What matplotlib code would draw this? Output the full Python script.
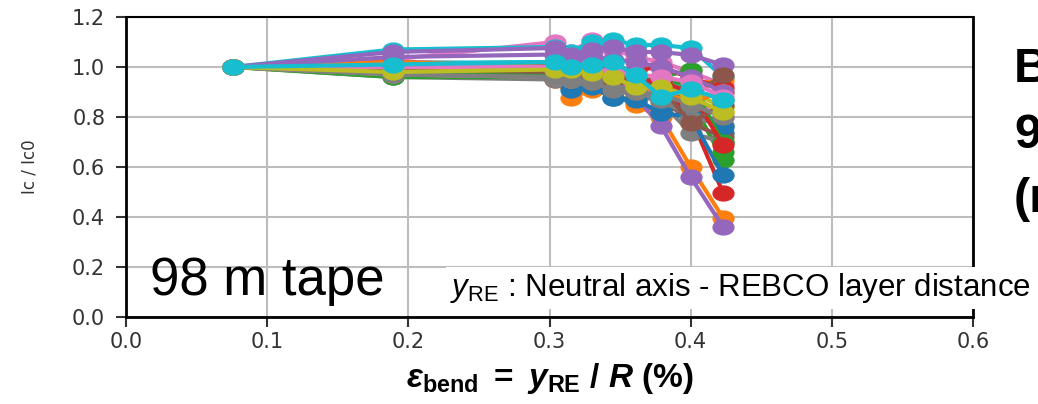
import matplotlib
matplotlib.use("Agg")
import matplotlib.pyplot as plt
from matplotlib.path import Path
import numpy as np

# bending strain positions (%)
strain = [0.076, 0.189, 0.304, 0.315, 0.330, 0.345, 0.361, 0.379, 0.400, 0.423]

# Ic/Ic0 of each tape section, one row per section
ic_ratio = [
    [1, 0.99, 0.97, 0.95, 0.93, 0.876, 0.86, 0.82, 0.848, 0.736],
    [1, 0.98, 0.95, 0.876, 0.908, 0.90, 0.848, 0.80, 0.60, 0.396],
    [1, 0.97, 0.96, 0.96, 0.95, 0.94, 0.93, 0.90, 0.87, 0.628],
    [1, 1.00, 0.99, 0.98, 0.98, 0.97, 0.96, 0.93, 0.80, 0.496],
    [1, 0.99, 0.98, 0.96, 0.95, 0.92, 0.88, 0.764, 0.56, 0.36],
    [1, 0.98, 0.97, 0.96, 0.95, 0.94, 0.92, 0.88, 0.776, 0.72],
    [1, 1.03, 1.10, 1.06, 1.108, 1.07, 1.04, 1.02, 0.98, 0.93],
    [1, 0.96, 0.95, 0.94, 0.93, 0.908, 0.89, 0.86, 0.736, 0.70],
    [1, 0.98, 0.97, 0.97, 0.96, 0.95, 0.92, 0.90, 0.86, 0.82],
    [1, 1.07, 1.08, 1.06, 1.10, 1.108, 1.088, 1.088, 1.076, 0.96],
    [1, 1.00, 0.99, 0.91, 0.92, 0.876, 0.87, 0.816, 0.80, 0.568],
    [1, 1.01, 1.00, 0.99, 0.98, 0.97, 0.95, 0.94, 0.93, 0.948],
    [1, 0.96, 0.96, 0.95, 0.95, 0.94, 0.94, 0.96, 0.988, 0.66],
    [1, 1.02, 1.01, 1.00, 1.00, 0.99, 0.988, 1.00, 0.956, 0.916],
    [1, 1.06, 1.076, 1.05, 1.068, 1.08, 1.06, 1.06, 1.048, 1.008],
    [1, 1.00, 0.99, 0.98, 0.97, 0.95, 0.93, 0.90, 0.88, 0.968],
    [1, 0.97, 0.96, 0.95, 0.95, 0.93, 0.92, 0.89, 0.86, 0.80],
    [1, 0.99, 0.97, 0.95, 0.94, 0.93, 0.90, 0.87, 0.80, 0.768],
    [1, 0.985, 0.996, 0.99, 0.976, 0.96, 0.92, 0.92, 0.90, 0.84],
    [1, 1.016, 1.02, 1.00, 1.008, 1.02, 0.968, 0.96, 0.912, 0.868],
    [1, 1.01, 1.00, 0.98, 0.97, 0.96, 0.94, 0.92, 0.848, 0.76],
    [1, 1.02, 1.00, 0.99, 0.97, 0.95, 0.93, 0.90, 0.86, 0.90],
    [1, 0.98, 0.97, 0.97, 0.96, 0.96, 0.95, 0.95, 0.93, 0.70],
    [1, 1.00, 0.99, 0.98, 0.97, 0.96, 0.95, 0.94, 0.90, 0.688],
    [1, 1.04, 1.05, 1.03, 1.04, 1.03, 1.02, 1.00, 0.96, 0.90],
    [1, 0.99, 0.98, 0.97, 0.96, 0.95, 0.94, 0.92, 0.776, 0.85],
    [1, 1.00, 1.00, 0.99, 0.99, 0.98, 0.97, 0.96, 0.94, 0.88],
    [1, 0.97, 0.96, 0.95, 0.94, 0.908, 0.90, 0.89, 0.85, 0.80],
    [1, 0.98, 0.99, 0.99, 0.976, 0.96, 0.92, 0.92, 0.88, 0.82],
    [1, 1.01, 1.02, 1.00, 1.008, 1.02, 0.968, 0.88, 0.912, 0.868],
]

x_ticks = [0.0, 0.1, 0.2, 0.3, 0.4, 0.5, 0.6]
y_ticks = [0.0, 0.2, 0.4, 0.6, 0.8, 1.0, 1.2]

plt.rcParams['mathtext.fontset'] = 'custom'
plt.rcParams['mathtext.rm'] = 'Liberation Sans'
plt.rcParams['mathtext.it'] = 'Liberation Sans:italic'
plt.rcParams['mathtext.bf'] = 'Liberation Sans:bold'
plt.rcParams['mathtext.bfit'] = 'Liberation Sans:italic:bold'

# the source picture is stretched sideways, so the dots are wide ellipses
circ = Path.unit_circle()
ellipse = Path(circ.vertices * np.array([1.4, 1.0]), circ.codes)

W, H = 1038, 404
fig = plt.figure(figsize=(W / 100, H / 100), dpi=100)
ax = fig.add_axes([126 / W, 1 - 317 / H, (973 - 126) / W, (317 - 17) / H])

for row in ic_ratio:
    ax.plot(strain, row, marker=ellipse, markersize=15, linewidth=3)

ax.set_xlim(0, 0.6)
ax.set_ylim(0, 1.2)
ax.set_xticks(x_ticks)
ax.set_yticks(y_ticks)
ax.set_xticklabels(["%.1f" % v for v in x_ticks])
ax.set_yticklabels(["%.1f" % v for v in y_ticks])
ax.grid(True, color='#bdbdbd', linewidth=1.5)
ax.set_axisbelow(True)
ax.tick_params(direction='out', length=7, width=1.5, labelsize=15,
               labelcolor='#333333', colors='#333333')
ax.tick_params(axis='y', pad=8)
ax.tick_params(axis='x', pad=4)
for side in ['left', 'bottom', 'right']:
    ax.spines[side].set_linewidth(2)
ax.spines['top'].set_linewidth(1.5)

ax.set_ylabel("Ic / Ic0", fontsize=12, color='#333333', labelpad=24)
ax.set_xlabel(r'$\mathbfit{ε}_{\mathbf{bend}}\mathbf{\ =\ }\mathbfit{y}_{\mathbf{RE}}'
              r'\mathbf{\ /\ }\mathbfit{R}\mathbf{\ (\%)}$', fontsize=24, labelpad=6)

fig.text(150 / W, 1 - 295 / H, "98 m tape", fontsize=38, family='Liberation Sans',
         ha='left', va='baseline')

fig.text(450 / W, 1 - 296 / H,
         r'$\mathit{y}_{\mathrm{RE}}$ : Neutral axis - REBCO layer distance',
         fontsize=22.5, family='Liberation Sans', ha='left', va='baseline',
         bbox=dict(facecolor='white', edgecolor='none', pad=3))

for txt, yb in [("B", 82), ("9", 148), ("(r", 212)]:
    fig.text(1014 / W, 1 - yb / H, txt, fontsize=35, family='Liberation Sans',
             fontweight='bold', ha='left', va='baseline')

fig.savefig("out.png", dpi=100)
